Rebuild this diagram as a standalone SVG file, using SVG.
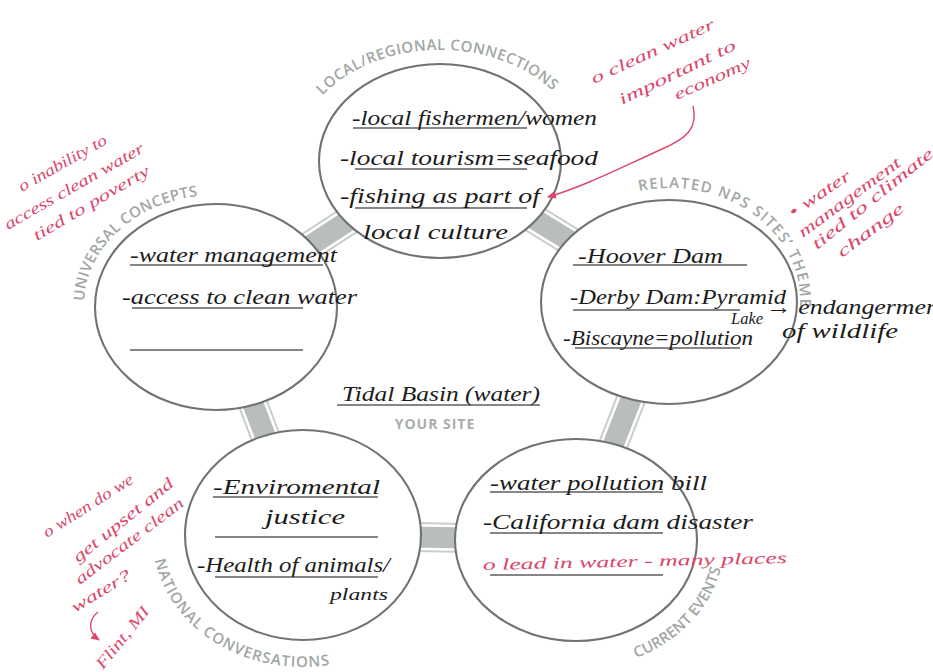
<svg xmlns="http://www.w3.org/2000/svg" width="933" height="672" viewBox="0 0 933 672">
  <defs>
    <style>
      .ring { fill: #ffffff; stroke: #6f7371; stroke-width: 2.1; }
      .arc-label { font-family: "Open Sans", "Liberation Sans", sans-serif; font-size: 15px; font-weight: 600; fill: #a1a6a4; }
      .hand { font-family: "Liberation Serif", serif; font-style: italic; font-size: 22px; fill: #1c1c1c; }
      .hand-sm { font-family: "Liberation Serif", serif; font-style: italic; font-size: 17px; fill: #1c1c1c; }
      .note { font-family: "Liberation Serif", serif; font-style: italic; font-size: 16px; fill: #d9486c; }
      .rule { stroke: #5e5e5e; stroke-width: 1.5; fill: none; }
      .conn-o { stroke: #c9cdcb; stroke-width: 30; }
      .conn-w { stroke: #ffffff; stroke-width: 26; }
      .conn-i { stroke: #b9bebb; stroke-width: 21; }
      .red-line { stroke: #d9486c; stroke-width: 1.4; fill: none; }
      .site { font-family: "Open Sans", "Liberation Sans", sans-serif; font-size: 14px; font-weight: 700; fill: #a9adab; letter-spacing: 1px; }
    </style>
    <marker id="redhead" viewBox="0 0 10 10" refX="8" refY="5" markerWidth="7" markerHeight="7" orient="auto-start-reverse">
      <path d="M0,1 L9,5 L0,9 Z" fill="#d9486c"/>
    </marker>
    <!-- baselines for the curved circle titles -->
    <path id="p-local" d="M321,97 A145,110 0 0 1 557,95"/>
    <path id="p-related" d="M639,191 A131,113 0 0 1 800,307"/>
    <path id="p-universal" d="M84.1,301.2 A132,110 0 0 1 211.4,195.1"/>
    <path id="p-national" d="M155,560 A150,130 0 0 0 329,665"/>
    <path id="p-current" d="M636,658 A148,128 0 0 0 721,568"/>
  </defs>

  <rect width="933" height="672" fill="#ffffff"/>

  <!-- tubes joining neighbouring circles -->
  <g id="connectors">
    <g>
      <line class="conn-o" x1="440" y1="161" x2="216" y2="307"/>
      <line class="conn-w" x1="440" y1="161" x2="216" y2="307"/>
      <line class="conn-i" x1="440" y1="161" x2="216" y2="307"/>
    </g>
    <g>
      <line class="conn-o" x1="440" y1="161" x2="669" y2="302"/>
      <line class="conn-w" x1="440" y1="161" x2="669" y2="302"/>
      <line class="conn-i" x1="440" y1="161" x2="669" y2="302"/>
    </g>
    <g>
      <line class="conn-o" x1="216" y1="307" x2="303" y2="535"/>
      <line class="conn-w" x1="216" y1="307" x2="303" y2="535"/>
      <line class="conn-i" x1="216" y1="307" x2="303" y2="535"/>
    </g>
    <g>
      <line class="conn-o" x1="303" y1="535" x2="576" y2="540"/>
      <line class="conn-w" x1="303" y1="535" x2="576" y2="540"/>
      <line class="conn-i" x1="303" y1="535" x2="576" y2="540"/>
    </g>
    <g>
      <line class="conn-o" x1="669" y1="302" x2="576" y2="540"/>
      <line class="conn-w" x1="669" y1="302" x2="576" y2="540"/>
      <line class="conn-i" x1="669" y1="302" x2="576" y2="540"/>
    </g>
  </g>

  <!-- Local / regional connections -->
  <g id="local">
    <ellipse class="ring" cx="440" cy="161" rx="121" ry="97"/>
    <text class="arc-label"><textPath href="#p-local" startOffset="2" textLength="252" lengthAdjust="spacing">LOCAL/REGIONAL CONNECTIONS</textPath></text>
    <line class="rule" x1="353" y1="128" x2="527" y2="128"/>
    <line class="rule" x1="355" y1="169" x2="527" y2="169"/>
    <line class="rule" x1="355" y1="208" x2="527" y2="208"/>
    <text class="hand" x="352" y="125" textLength="245" lengthAdjust="spacingAndGlyphs">-local fishermen/women</text>
    <text class="hand" x="340" y="165" textLength="258" lengthAdjust="spacingAndGlyphs">-local tourism=seafood</text>
    <text class="hand" x="340" y="203" textLength="200" lengthAdjust="spacingAndGlyphs">-fishing as part of</text>
    <text class="hand" x="363" y="239" textLength="145" lengthAdjust="spacingAndGlyphs">local culture</text>
  </g>

  <!-- Universal concepts -->
  <g id="universal">
    <ellipse class="ring" cx="216" cy="307" rx="121" ry="103"/>
    <text class="arc-label"><textPath href="#p-universal" startOffset="0" textLength="168" lengthAdjust="spacing">UNIVERSAL CONCEPTS</textPath></text>
    <line class="rule" x1="130" y1="265" x2="323" y2="265"/>
    <line class="rule" x1="132" y1="308" x2="303" y2="308"/>
    <line class="rule" x1="130" y1="350" x2="303" y2="350"/>
    <text class="hand" x="130" y="262" textLength="207" lengthAdjust="spacingAndGlyphs">-water management</text>
    <text class="hand" x="122" y="304" textLength="235" lengthAdjust="spacingAndGlyphs">-access to clean water</text>
  </g>

  <!-- Related NPS sites' theme -->
  <g id="related">
    <ellipse class="ring" cx="669" cy="302" rx="128" ry="102"/>
    <text class="arc-label"><textPath href="#p-related" startOffset="0" textLength="228" lengthAdjust="spacing">RELATED NPS SITES’ THEME</textPath></text>
    <line class="rule" x1="573" y1="265" x2="747" y2="265"/>
    <line class="rule" x1="573" y1="310" x2="740" y2="310"/>
    <line class="rule" x1="575" y1="348" x2="740" y2="348"/>
    <text class="hand" x="578" y="263" textLength="145" lengthAdjust="spacingAndGlyphs">-Hoover Dam</text>
    <text class="hand" x="570" y="304" textLength="216" lengthAdjust="spacingAndGlyphs">-Derby Dam:Pyramid</text>
    <text class="hand-sm" x="731" y="324" textLength="32" lengthAdjust="spacingAndGlyphs">Lake</text>
    <text class="hand" x="766" y="314" textLength="180" lengthAdjust="spacingAndGlyphs">→ endangerment</text>
    <text class="hand" x="782" y="338" textLength="116" lengthAdjust="spacingAndGlyphs">of wildlife</text>
    <text class="hand" x="563" y="345" textLength="190" lengthAdjust="spacingAndGlyphs">-Biscayne=pollution</text>
  </g>

  <!-- National conversations -->
  <g id="national">
    <ellipse class="ring" cx="303" cy="535" rx="118" ry="105"/>
    <text class="arc-label"><textPath href="#p-national" startOffset="0" textLength="224" lengthAdjust="spacing">NATIONAL CONVERSATIONS</textPath></text>
    <line class="rule" x1="213" y1="497" x2="378" y2="497"/>
    <line class="rule" x1="215" y1="537" x2="378" y2="537"/>
    <line class="rule" x1="215" y1="577" x2="378" y2="577"/>
    <text class="hand" x="213" y="494" textLength="167" lengthAdjust="spacingAndGlyphs">-Enviromental</text>
    <text class="hand" x="265" y="524" textLength="80" lengthAdjust="spacingAndGlyphs">justice</text>
    <text class="hand" x="197" y="572" textLength="193" lengthAdjust="spacingAndGlyphs">-Health of animals/</text>
    <text class="hand-sm" x="330" y="600" textLength="58" lengthAdjust="spacingAndGlyphs">plants</text>
  </g>

  <!-- Current events -->
  <g id="current">
    <ellipse class="ring" cx="576" cy="540" rx="121" ry="101"/>
    <text class="arc-label"><textPath href="#p-current" startOffset="0" textLength="128" lengthAdjust="spacing">CURRENT EVENTS</textPath></text>
    <line class="rule" x1="490" y1="492" x2="663" y2="492"/>
    <line class="rule" x1="490" y1="533" x2="663" y2="533"/>
    <line class="rule" x1="490" y1="575" x2="663" y2="575"/>
    <text class="hand" x="490" y="490" textLength="217" lengthAdjust="spacingAndGlyphs">-water pollution bill</text>
    <text class="hand" x="483" y="529" textLength="270" lengthAdjust="spacingAndGlyphs">-California dam disaster</text>
    <text class="note" transform="translate(483,570) rotate(-1.3)" textLength="304" lengthAdjust="spacingAndGlyphs">o lead in water - many places</text>
  </g>

  <!-- Centre: the site itself -->
  <g id="site">
    <line class="rule" x1="337" y1="405" x2="540" y2="405"/>
    <text class="hand" x="342" y="401" textLength="198" lengthAdjust="spacingAndGlyphs">Tidal Basin (water)</text>
    <text class="site" x="435" y="429" text-anchor="middle">YOUR SITE</text>
  </g>

  <!-- margin notes in red pen -->
  <g id="note-economy">
    <text class="note" transform="translate(594,84) rotate(-24.7)" textLength="134" lengthAdjust="spacingAndGlyphs">o clean water</text>
    <text class="note" transform="translate(622,105) rotate(-26)" textLength="128" lengthAdjust="spacingAndGlyphs">important to</text>
    <text class="note" transform="translate(677,100) rotate(-24)" textLength="82" lengthAdjust="spacingAndGlyphs">economy</text>
    <path class="red-line" d="M693,106 C698,128 688,138 660,150 C620,168 585,186 548,197" marker-end="url(#redhead)"/>
  </g>

  <g id="note-poverty">
    <text class="note" transform="translate(22,192) rotate(-29.6)" textLength="99" lengthAdjust="spacingAndGlyphs">o inability to</text>
    <text class="note" transform="translate(8,230) rotate(-29.8)" textLength="158" lengthAdjust="spacingAndGlyphs">access clean water</text>
    <text class="note" transform="translate(37,241) rotate(-30.6)" textLength="132" lengthAdjust="spacingAndGlyphs">tied to poverty</text>
  </g>

  <g id="note-climate">
    <text class="note" transform="translate(793,218) rotate(-34)" textLength="71" lengthAdjust="spacingAndGlyphs">• water</text>
    <text class="note" transform="translate(803,238) rotate(-36.4)" textLength="123" lengthAdjust="spacingAndGlyphs">management</text>
    <text class="note" transform="translate(817,250) rotate(-38.8)" textLength="151" lengthAdjust="spacingAndGlyphs">tied to climate</text>
    <text class="note" transform="translate(842,258) rotate(-37)" textLength="79" lengthAdjust="spacingAndGlyphs">change</text>
  </g>

  <g id="note-advocate">
    <text class="note" transform="translate(47,538) rotate(-32.5)" textLength="104" lengthAdjust="spacingAndGlyphs">o when do we</text>
    <text class="note" transform="translate(78,563) rotate(-38.8)" textLength="124" lengthAdjust="spacingAndGlyphs">get upset and</text>
    <text class="note" transform="translate(80,585) rotate(-37.3)" textLength="132" lengthAdjust="spacingAndGlyphs">advocate clean</text>
    <text class="note" transform="translate(75,613) rotate(-31.5)" textLength="67" lengthAdjust="spacingAndGlyphs">water?</text>
    <path class="red-line" d="M98,612 C88,620 88,632 99,640" marker-end="url(#redhead)"/>
    <text class="note" transform="translate(103,670) rotate(-51)" textLength="75" lengthAdjust="spacingAndGlyphs">Flint, MI</text>
  </g>
</svg>
